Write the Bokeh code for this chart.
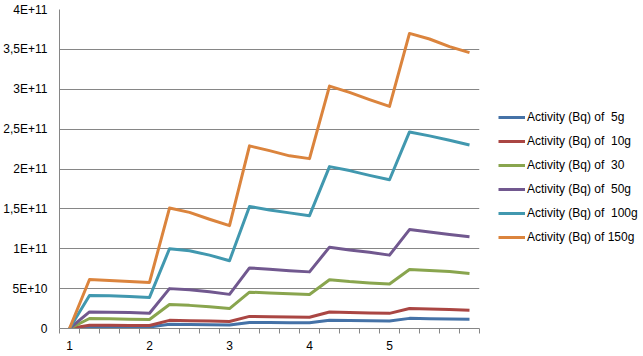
from bokeh.plotting import figure
from bokeh.models import FixedTicker, Range1d, Legend, LegendItem
from bokeh.embed import file_html
from bokeh.resources import INLINE

# ---- data ----
x_index = list(range(21))
x_tick_positions = [0, 4, 8, 12, 16]
x_tick_labels = ["1", "2", "3", "4", "5"]

y_ticks = [0, 5e10, 1e11, 1.5e11, 2e11, 2.5e11, 3e11, 3.5e11, 4e11]
y_tick_labels = ["0", "5E+10", "1E+11", "1,5E+11", "2E+11", "2,5E+11", "3E+11", "3,5E+11", "4E+11"]

act_5g = [0, 2.0e9, 2.0e9, 1.95e9, 1.9e9, 5.3e9, 5.1e9, 4.7e9, 4.3e9, 7.6e9, 7.4e9,
          7.2e9, 7.1e9, 1.03e10, 1.0e10, 9.7e9, 9.4e9, 1.27e10, 1.23e10, 1.19e10, 1.15e10]
act_10g = [0, 4.1e9, 4.0e9, 3.9e9, 3.7e9, 1.02e10, 9.8e9, 9.3e9, 8.7e9, 1.52e10, 1.48e10,
           1.44e10, 1.41e10, 2.06e10, 2.01e10, 1.94e10, 1.9e10, 2.5e10, 2.45e10, 2.38e10, 2.28e10]
act_30 = [0, 1.25e10, 1.22e10, 1.17e10, 1.12e10, 3.0e10, 2.9e10, 2.72e10, 2.5e10, 4.56e10, 4.46e10,
          4.36e10, 4.27e10, 6.12e10, 5.88e10, 5.72e10, 5.57e10, 7.4e10, 7.27e10, 7.15e10, 6.9e10]
act_50g = [0, 2.08e10, 2.05e10, 2.0e10, 1.92e10, 5.0e10, 4.85e10, 4.6e10, 4.28e10, 7.6e10, 7.42e10,
           7.25e10, 7.1e10, 1.02e11, 9.85e10, 9.56e10, 9.2e10, 1.24e11, 1.21e11, 1.18e11, 1.15e11]
act_100g = [0, 4.15e10, 4.1e10, 4.02e10, 3.9e10, 1.0e11, 9.75e10, 9.2e10, 8.5e10, 1.53e11, 1.485e11,
            1.45e11, 1.415e11, 2.03e11, 1.98e11, 1.92e11, 1.865e11, 2.465e11, 2.415e11, 2.36e11, 2.3e11]
act_150g = [0, 6.15e10, 6.03e10, 5.9e10, 5.78e10, 1.51e11, 1.456e11, 1.37e11, 1.29e11, 2.29e11, 2.23e11,
            2.165e11, 2.13e11, 3.04e11, 2.96e11, 2.87e11, 2.785e11, 3.7e11, 3.63e11, 3.535e11, 3.46e11]

series_labels = ["Activity (Bq) of  5g", "Activity (Bq) of  10g", "Activity (Bq) of  30",
                 "Activity (Bq) of  50g", "Activity (Bq) of  100g", "Activity (Bq) of 150g"]
series_values = [act_5g, act_10g, act_30, act_50g, act_100g, act_150g]
series_colors = ["#4572A7", "#AA4643", "#89A54E", "#71588F", "#4198AF", "#DB843D"]

FONT = "Liberation Sans"
GRID = "#868686"

p = figure(frame_width=420, frame_height=319,
           x_range=Range1d(-0.5, 20.5), y_range=Range1d(0, 4e11),
           output_backend="svg", toolbar_location=None,
           min_border_left=58, min_border_right=165, min_border_top=9, min_border_bottom=28)
p.outline_line_color = None
p.background_fill_color = "white"
p.border_fill_color = "white"

renderers = []
for vals, col in zip(series_values, series_colors):
    r = p.line(x_index, vals, line_color=col, line_width=3, line_join="round")
    renderers.append(r)

# y axis
p.yaxis.ticker = FixedTicker(ticks=y_ticks)
p.yaxis.major_label_overrides = {float(t): s for t, s in zip(y_ticks, y_tick_labels)}
p.yaxis.major_tick_out = 0
p.yaxis.major_tick_in = 0
p.yaxis.minor_tick_out = 0
p.yaxis.minor_tick_in = 0
p.yaxis.major_label_standoff = 12
p.yaxis.axis_line_color = GRID
p.yaxis.major_label_text_font = FONT
p.yaxis.major_label_text_font_size = "12px"
p.yaxis.major_label_text_color = "black"

# x axis
p.xaxis.ticker = FixedTicker(ticks=x_tick_positions,
                             minor_ticks=[i - 0.5 for i in range(len(x_index) + 1)])
p.xaxis.major_label_overrides = {float(t): s for t, s in zip(x_tick_positions, x_tick_labels)}
p.xaxis.major_tick_out = 0
p.xaxis.major_tick_in = 0
p.xaxis.minor_tick_out = 5
p.xaxis.minor_tick_in = 0
p.xaxis.minor_tick_line_color = GRID
p.xaxis.major_label_standoff = 7
p.xaxis.axis_line_color = GRID
p.xaxis.major_label_text_font = FONT
p.xaxis.major_label_text_font_size = "12px"
p.xaxis.major_label_text_color = "black"

p.xgrid.visible = False
p.ygrid.grid_line_color = GRID
p.ygrid.grid_line_width = 1

items = [LegendItem(label=lab, renderers=[r]) for lab, r in zip(series_labels, renderers)]
legend = Legend(items=items, location=(19, 81), padding=0, margin=0, spacing=4,
                label_height=20, glyph_height=20, glyph_width=27, label_standoff=2,
                border_line_color=None, background_fill_alpha=0,
                label_text_font=FONT, label_text_font_size="12px", label_text_color="black")
p.add_layout(legend, "right")

open("out.html", "w").write(file_html(p, INLINE))
